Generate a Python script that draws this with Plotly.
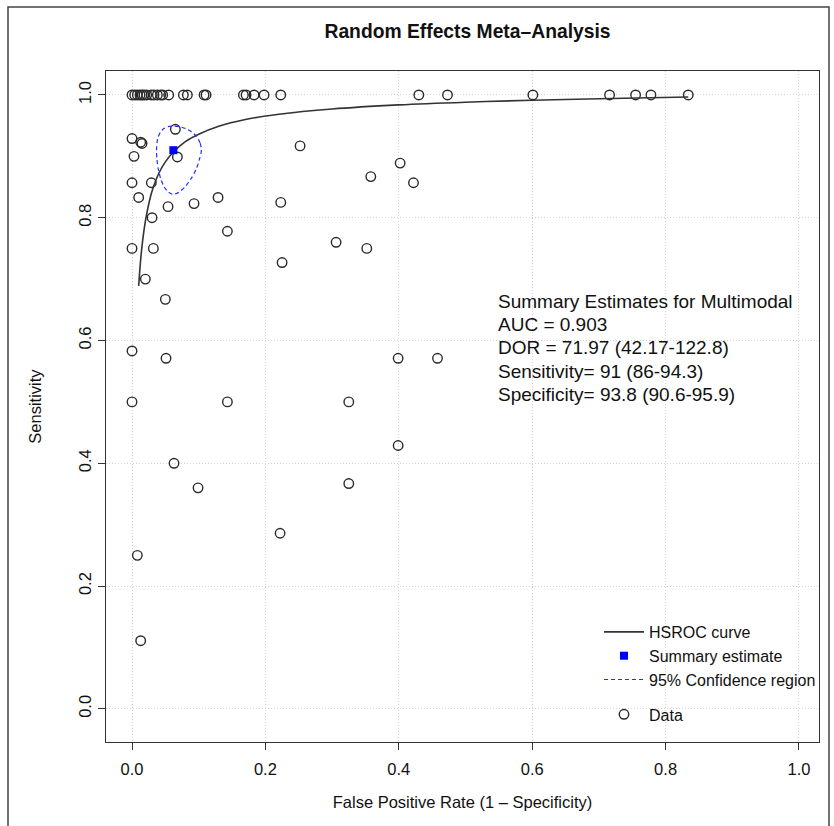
import plotly.graph_objects as go

# ---- data ----
top_fpr = [0.000, 0.004, 0.008, 0.012, 0.015, 0.018, 0.022, 0.029, 0.033, 0.038, 0.043, 0.046,
           0.055, 0.077, 0.083, 0.108, 0.111, 0.167, 0.171, 0.183, 0.198, 0.223,
           0.430, 0.473, 0.601, 0.716, 0.755, 0.778, 0.834]
top_sens = [1.0] * len(top_fpr)

other_fpr = [0.000, 0.013, 0.015, 0.065, 0.003, 0.068, 0.000, 0.029, 0.010, 0.054, 0.093, 0.129,
             0.223, 0.030, 0.143, 0.000, 0.032, 0.020, 0.050, 0.252, 0.402, 0.358, 0.422, 0.306,
             0.352, 0.225, 0.000, 0.051, 0.399, 0.458, 0.000, 0.143, 0.325, 0.063, 0.099, 0.399,
             0.325, 0.222, 0.008, 0.013]
other_sens = [0.929, 0.923, 0.921, 0.944, 0.900, 0.899, 0.857, 0.857, 0.833, 0.818, 0.823, 0.833,
              0.825, 0.800, 0.778, 0.750, 0.750, 0.700, 0.667, 0.917, 0.889, 0.867, 0.857, 0.760,
              0.750, 0.727, 0.583, 0.571, 0.571, 0.571, 0.500, 0.500, 0.500, 0.400, 0.360, 0.429,
              0.367, 0.286, 0.250, 0.111]

data_fpr = top_fpr + other_fpr
data_sens = top_sens + other_sens

curve_fpr = [0.010, 0.013, 0.016, 0.020, 0.025, 0.030, 0.040, 0.050, 0.062, 0.080, 0.100, 0.130,
             0.170, 0.220, 0.300, 0.400, 0.500, 0.600, 0.700, 0.834]
curve_sens = [0.689, 0.732, 0.763, 0.794, 0.822, 0.843, 0.872, 0.891, 0.907, 0.924, 0.936, 0.949,
              0.960, 0.9685, 0.9771, 0.9838, 0.9882, 0.9914, 0.9939, 0.9967]

summary_fpr = [0.062]
summary_sens = [0.910]

ellipse_fpr = [0.1040, 0.1020, 0.0970, 0.0893, 0.0803, 0.0710, 0.0620, 0.0542, 0.0478, 0.0429,
               0.0394, 0.0374, 0.0367, 0.0374, 0.0394, 0.0429, 0.0478, 0.0542, 0.0620, 0.0708,
               0.0800, 0.0888, 0.0962, 0.1010, 0.1040]
ellipse_sens = [0.9097, 0.9220, 0.9320, 0.9398, 0.9452, 0.9483, 0.9493, 0.9483, 0.9452, 0.9398,
                0.9320, 0.9220, 0.9097, 0.8950, 0.8790, 0.8640, 0.8510, 0.8420, 0.8380, 0.8420,
                0.8510, 0.8640, 0.8790, 0.8950, 0.9097]

x_ticks = [0.0, 0.2, 0.4, 0.6, 0.8, 1.0]
y_ticks = [0.0, 0.2, 0.4, 0.6, 0.8, 1.0]
x_ticktext = ["0.0", "0.2", "0.4", "0.6", "0.8", "1.0"]
y_ticktext = ["0.0", "0.2", "0.4", "0.6", "0.8", "1.0"]

summary_lines = ["Summary Estimates for Multimodal", "AUC = 0.903", "DOR = 71.97 (42.17-122.8)",
                 "Sensitivity= 91 (86-94.3)", "Specificity= 93.8 (90.6-95.9)"]

FONT = "Liberation Sans, Arial, Helvetica, sans-serif"
W, H = 834, 826
L, R, T, B = 106, 15, 71, 84
PW, PH = W - L - R, H - T - B

fig = go.Figure()

fig.add_trace(go.Scatter(
    x=data_fpr, y=data_sens, mode="markers", name="Data", legendrank=4, legendgroup="b",
    marker=dict(symbol="circle-open", size=9.5, color="#2a2a2a", line=dict(width=1.4, color="#2a2a2a"))))
fig.add_trace(go.Scatter(
    x=curve_fpr, y=curve_sens, mode="lines", name="HSROC curve", legendrank=1, legendgroup="a",
    line=dict(color="#333333", width=1.6, shape="spline")))
fig.add_trace(go.Scatter(
    x=ellipse_fpr, y=ellipse_sens, mode="lines", name="95% Confidence region", legendrank=3,
    legendgroup="a", line=dict(color="#1f2fff", width=1.2, dash="4px,3px", shape="spline", smoothing=0.8)))
fig.add_trace(go.Scatter(
    x=summary_fpr, y=summary_sens, mode="markers", name="Summary estimate", legendrank=2,
    legendgroup="a", marker=dict(symbol="square", size=8, color="#0000ff")))

# summary text lines
line_y_px = [301, 324, 348, 371, 394]
for txt, ypx in zip(summary_lines, line_y_px):
    fig.add_annotation(text=txt, xref="paper", yref="paper",
                       x=(496 - L) / PW, y=1 - (ypx - T) / PH,
                       xanchor="left", yanchor="middle", showarrow=False,
                       font=dict(family=FONT, size=19, color="#111"))

# outer frame
fig.add_shape(type="rect", xref="paper", yref="paper",
              x0=(8 - L) / PW, x1=(829 - L) / PW,
              y0=-0.2, y1=1 + (T - 7) / PH,
              line=dict(color="#444", width=1.5), fillcolor="rgba(0,0,0,0)", layer="below")

axis_common = dict(showline=True, mirror=True, linecolor="#333", linewidth=1.2,
                   ticks="outside", ticklen=7, tickcolor="#333", tickwidth=1,
                   showgrid=True, gridcolor="#d4d4d4", griddash="1px,2px", gridwidth=1,
                   zeroline=False, tickfont=dict(family=FONT, size=16.5, color="#111"))

fig.update_layout(
    width=W, height=H, margin=dict(l=L, r=R, t=T, b=B),
    paper_bgcolor="white", plot_bgcolor="white",
    title=dict(text="<b>Random Effects Meta–Analysis</b>", x=(L + PW / 2 + 5) / W, xanchor="center",
               y=1 - 31 / H, yanchor="middle", font=dict(family=FONT, size=19.3, color="#111")),
    xaxis=dict(range=[-0.039, 1.030], tickvals=x_ticks, ticktext=x_ticktext,
               ticklabelstandoff=5,
               title=dict(text="False Positive Rate (1 – Specificity)", standoff=19,
                          font=dict(family=FONT, size=16.5, color="#111")), **axis_common),
    yaxis=dict(range=[-0.054, 1.039], tickvals=y_ticks, ticktext=y_ticktext, tickangle=-90,
               ticklabelstandoff=0,
               title=dict(text="Sensitivity", standoff=30,
                          font=dict(family=FONT, size=16.5, color="#111")), **axis_common),
    legend=dict(x=(599 - L) / PW, y=1 - (615 - T) / PH, xanchor="left", yanchor="top",
                bgcolor="rgba(0,0,0,0)", tracegroupgap=11, traceorder="grouped",
                font=dict(family=FONT, size=16, color="#111"), itemwidth=40),
    showlegend=True,
)

fig.write_html("out.html")
